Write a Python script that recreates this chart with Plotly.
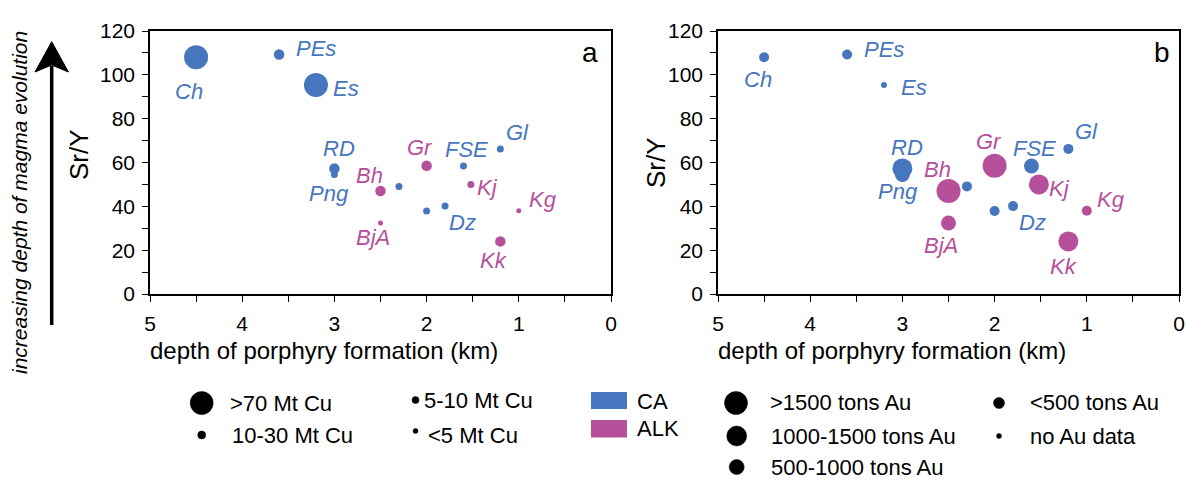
import plotly.graph_objects as go

W, H = 1186, 480

# ---------------- data ----------------
names   = ["Ch", "PEs", "Es", "RD", "Png", "Bh", "", "BjA", "Gr", "FSE", "Gl", "Kj", "", "Dz", "Kg", "Kk"]
depth   = [4.5, 3.6, 3.2, 3.0, 3.0, 2.5, 2.3, 2.5, 2.0, 1.6, 1.2, 1.52, 2.0, 1.8, 1.0, 1.2]
sr_y    = [108, 109.3, 95.4, 57.3, 54.5, 47.0, 49.1, 32.4, 58.5, 58.4, 66.2, 50.0, 37.9, 40.1, 38.0, 24.0]
series  = ["CA", "CA", "CA", "CA", "CA", "ALK", "CA", "ALK", "ALK", "CA", "CA", "ALK", "CA", "CA", "ALK", "ALK"]
cu_cls  = [">70", "10-30", ">70", "10-30", "5-10", "10-30", "5-10", "<5", "10-30", "5-10", "5-10", "5-10",
           "5-10", "5-10", "<5", "10-30"]
au_cls  = ["<500", "<500", "none", "1000-1500", "500-1000", ">1500", "<500", "500-1000", ">1500", "500-1000",
           "<500", "1000-1500", "<500", "<500", "<500", "1000-1500"]

cu_legend = [">70 Mt Cu", "10-30 Mt Cu", "5-10 Mt Cu", "<5 Mt Cu"]
au_legend = [">1500 tons Au", "1000-1500 tons Au", "500-1000 tons Au", "<500 tons Au", "no Au data"]
group_legend = ["CA", "ALK"]

x_ticks = [5, 4, 3, 2, 1, 0]
y_ticks = [0, 20, 40, 60, 80, 100, 120]

# ---------------- styles ----------------
COL = {"CA": "#4676BD", "ALK": "#B6509B"}
CU_SIZE = {">70": 24, "10-30": 10.5, "5-10": 7, "<5": 5}
AU_SIZE = {">1500": 24, "1000-1500": 20, "500-1000": 15, "<500": 10, "none": 6}
FONT = "Liberation Sans, Arial, Helvetica, sans-serif"

# label offsets in pixels (dx right, dy down) per panel
OFF_A = {"Ch": (-7, 34), "PEs": (37, -6), "Es": (30, 4), "RD": (5, -20), "Png": (-5, 19), "Bh": (-11, -15),
         "BjA": (-8, 15), "Gr": (-7, -18), "FSE": (3, -17), "Gl": (17, -16), "Kj": (17, 3), "Dz": (17, 16),
         "Kg": (24, -11), "Kk": (-7, 19)}
OFF_B = {"Ch": (-6, 22), "PEs": (37, -5), "Es": (30, 3), "RD": (5, -21), "Png": (-4, 17), "Bh": (-11, -21),
         "BjA": (-8, 23), "Gr": (-6, -24), "FSE": (3, -18), "Gl": (18, -17), "Kj": (21, 4), "Dz": (19, 16),
         "Kg": (24, -11), "Kk": (-5, 25)}


def px(x):
    return x / W


def py(y):
    return 1 - y / H


fig = go.Figure()

# data traces
for panel, (xa, ya, sizes) in enumerate([("x", "y", [CU_SIZE[c] for c in cu_cls]),
                                         ("x2", "y2", [AU_SIZE[c] for c in au_cls])]):
    fig.add_trace(go.Scatter(
        x=depth, y=sr_y, mode="markers", xaxis=xa, yaxis=ya, showlegend=False, hoverinfo="skip",
        marker=dict(size=sizes, color=[COL[s] for s in series], line=dict(width=0), opacity=1),
    ))

annotations = []
for xa, ya, off in [("x", "y", OFF_A), ("x2", "y2", OFF_B)]:
    for n, d, v, s in zip(names, depth, sr_y, series):
        if not n:
            continue
        dx, dy = off[n]
        annotations.append(dict(
            x=d, y=v, xref=xa, yref=ya, text=n, showarrow=False, xshift=dx, yshift=-dy,
            font=dict(family=FONT, size=22, color=COL[s], style="italic"),
            xanchor="center", yanchor="middle"))

# panel letters
annotations.append(dict(x=px(590), y=py(52), xref="paper", yref="paper", text="a", showarrow=False,
                        font=dict(family=FONT, size=28, color="black"), xanchor="center", yanchor="middle"))
annotations.append(dict(x=px(1162), y=py(53), xref="paper", yref="paper", text="b", showarrow=False,
                        font=dict(family=FONT, size=28, color="black"), xanchor="center", yanchor="middle"))

# axis titles
for xl, yl in [(148, 350), (716, 350)]:
    annotations.append(dict(x=px(xl), y=py(yl), xref="paper", yref="paper",
                            text="depth of porphyry formation (km)", showarrow=False,
                            font=dict(family=FONT, size=24, color="black"), xanchor="left", yanchor="middle"))
for xl, yl in [(79, 155), (656, 163)]:
    annotations.append(dict(x=px(xl), y=py(yl), xref="paper", yref="paper", text="Sr/Y", showarrow=False,
                            textangle=-90, font=dict(family=FONT, size=26, color="black"),
                            xanchor="center", yanchor="middle"))

annotations.append(dict(x=px(20), y=py(203), xref="paper", yref="paper",
                        text="increasing depth of magma evolution", showarrow=False, textangle=-90,
                        font=dict(family=FONT, size=21, color="black", style="italic"),
                        xanchor="center", yanchor="middle"))

# legend (symbol positions and sizes)
LEG_CU = [(201.7, 403, 23, 228, 403), (201.7, 435, 8, 230, 435), (415.5, 400, 7, 422, 400),
          (415.5, 431, 5, 426, 435)]
LEG_AU = [(736, 403, 23, 768, 402), (736.7, 436, 20, 769, 436), (736.7, 467, 15, 769, 467),
          (999, 403, 11, 1028, 402), (999, 436, 5, 1028, 436)]
LEG_GRP = [(591, 392, 627, 409, 635, 401), (591, 420, 627, 437.5, 635, 428.5)]

leg_x, leg_y, leg_s = [], [], []
for (mx, my, ms, tx, ty), lab in list(zip(LEG_CU, cu_legend)) + list(zip(LEG_AU, au_legend)):
    leg_x.append(mx)
    leg_y.append(my)
    leg_s.append(ms)
    annotations.append(dict(x=px(tx), y=py(ty), xref="paper", yref="paper", text=lab, showarrow=False,
                            font=dict(family=FONT, size=22, color="#000000"), xanchor="left", yanchor="middle"))

fig.add_trace(go.Scatter(x=leg_x, y=leg_y, mode="markers", xaxis="x3", yaxis="y3", showlegend=False,
                         hoverinfo="skip",
                         marker=dict(size=leg_s, color="#000000", opacity=1, line=dict(width=0.5, color="#000000"))))

shapes = []
for (x0, y0, x1, y1, tx, ty), lab in zip(LEG_GRP, group_legend):
    shapes.append(dict(type="rect", xref="paper", yref="paper", x0=px(x0), x1=px(x1), y0=py(y0), y1=py(y1),
                       fillcolor=COL[lab], line=dict(width=0)))
    annotations.append(dict(x=px(tx), y=py(ty), xref="paper", yref="paper", text=lab, showarrow=False,
                            font=dict(family=FONT, size=22, color="#000000"), xanchor="left", yanchor="middle"))

# arrow
shapes.append(dict(type="line", xref="paper", yref="paper", x0=px(51.7), x1=px(51.7), y0=py(325), y1=py(66),
                   line=dict(color="black", width=3.5)))
head = [(51.7, 41.7), (35, 72), (51.7, 65), (68.4, 72)]
path = "M " + " L ".join(f"{px(a):.5f},{py(b):.5f}" for a, b in head) + " Z"
shapes.append(dict(type="path", xref="paper", yref="paper", path=path, fillcolor="black",
                   line=dict(color="black", width=1)))

axis_common = dict(showline=True, linecolor="black", linewidth=1.5, mirror=True, showgrid=False,
                   zeroline=False, ticks="outside", ticklen=6, tickwidth=1.3, tickcolor="black",
                   tickfont=dict(family=FONT, size=21, color="black"), fixedrange=True, automargin=False)

ydom = [py(294), py(31)]
xa_dom = [px(150), px(611)]
xb_dom = [px(718), px(1179)]

xcfg = dict(axis_common, range=[5, 0], tickvals=x_ticks, ticklabelstandoff=4,
            minor=dict(dtick=0.5, ticks="outside", ticklen=6, tickwidth=1.3, tickcolor="black", showgrid=False))
ycfg = dict(axis_common, range=[0, 120], tickvals=y_ticks, ticklabelstandoff=3,
            minor=dict(dtick=10, ticks="outside", ticklen=6, tickwidth=1.3, tickcolor="black", showgrid=False))

fig.update_layout(
    template="none",
    width=W, height=H, margin=dict(l=0, r=0, t=0, b=0, pad=0, autoexpand=False),
    paper_bgcolor="white", plot_bgcolor="rgba(0,0,0,0)",
    xaxis=dict(xcfg, domain=xa_dom, anchor="y"),
    yaxis=dict(ycfg, domain=ydom, anchor="x"),
    xaxis2=dict(xcfg, domain=xb_dom, anchor="y2"),
    yaxis2=dict(ycfg, domain=ydom, anchor="x2"),
    xaxis3=dict(domain=[0, 1], range=[0, W], visible=False, anchor="y3", fixedrange=True, automargin=False),
    yaxis3=dict(domain=[0, 1], range=[H, 0], visible=False, anchor="x3", fixedrange=True, automargin=False),
    annotations=annotations, shapes=shapes, showlegend=False,
)

fig.write_html("out.html", config={"displayModeBar": False},
               post_script="document.body.style.margin='0';document.body.style.overflow='hidden';")
